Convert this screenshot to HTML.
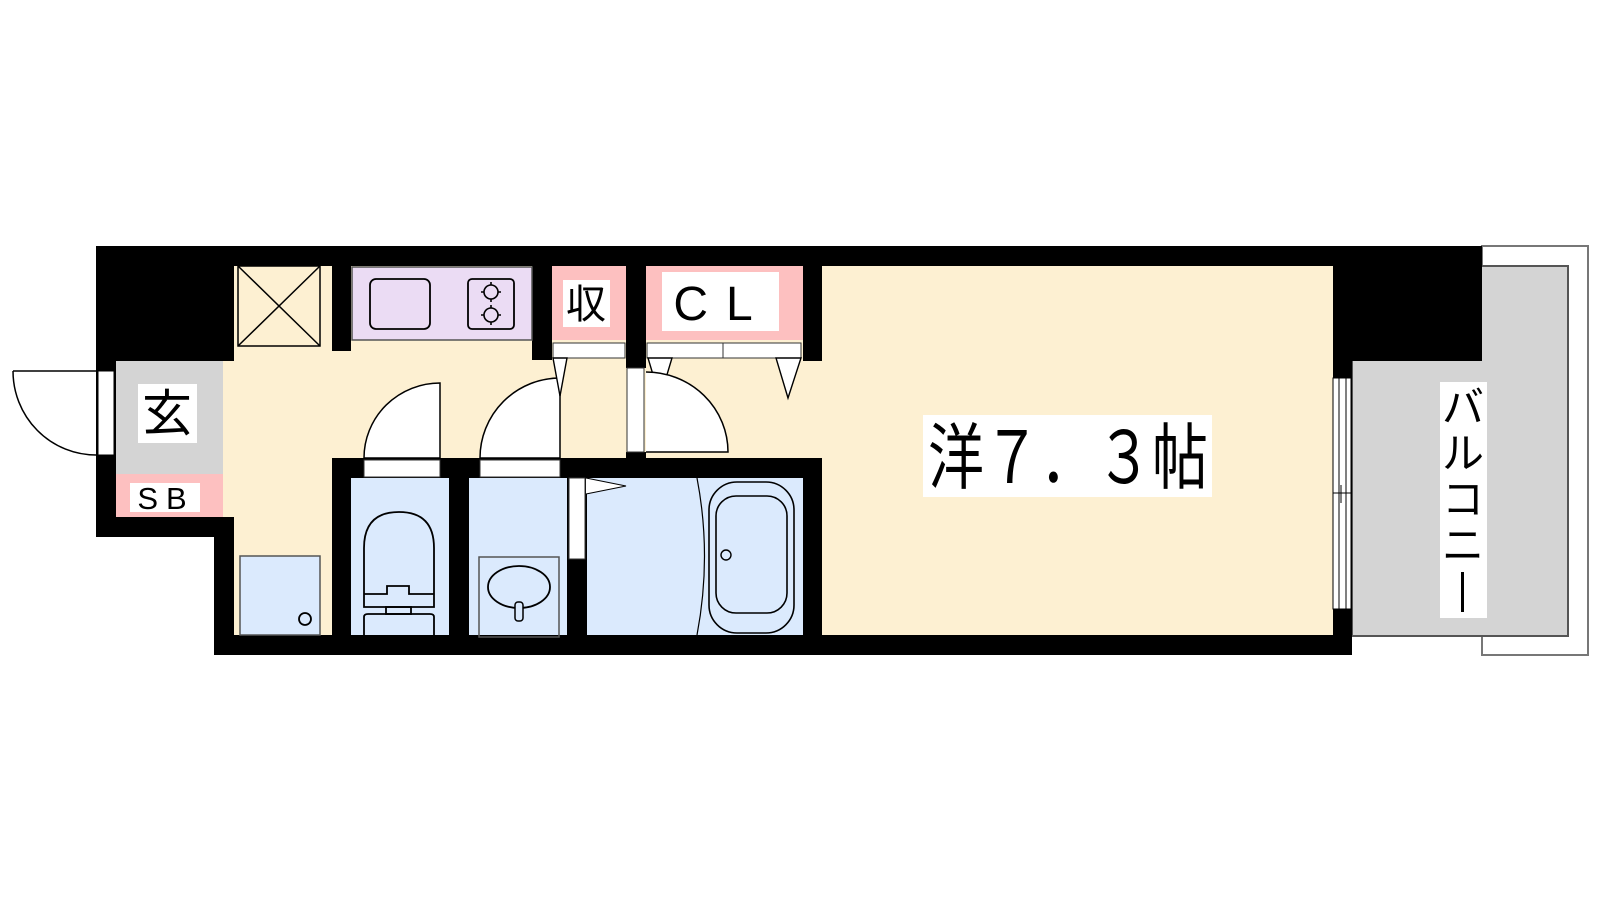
<!DOCTYPE html>
<html><head><meta charset="utf-8"><style>
html,body{margin:0;padding:0;background:#fff;width:1600px;height:900px;overflow:hidden}
svg{display:block}
text{font-family:"Liberation Sans","Noto Sans CJK JP",sans-serif;fill:#000}
</style></head><body>
<svg width="1600" height="900" viewBox="0 0 1600 900" xmlns="http://www.w3.org/2000/svg">
<!-- balcony -->
<rect x="1482" y="246" width="106" height="409" fill="#fff" stroke="#777" stroke-width="2"/>
<rect x="1352" y="266" width="216" height="370" fill="#d4d4d4" stroke="#555" stroke-width="2"/>
<!-- floors -->
<rect x="223" y="266" width="1110" height="369" fill="#fdf0d2"/>
<rect x="116" y="361" width="107" height="113" fill="#d4d4d4"/>
<rect x="116" y="474" width="107" height="43" fill="#fdc0c0"/>
<rect x="351" y="478" width="98" height="157" fill="#dbeafd"/>
<rect x="469" y="478" width="98" height="157" fill="#dbeafd"/>
<rect x="587" y="478" width="216" height="157" fill="#dbeafd"/>
<rect x="552" y="266" width="74" height="74" fill="#fdc0c0"/>
<rect x="646" y="266" width="157" height="74" fill="#fdc0c0"/>
<!-- walls -->
<g fill="#000">
<rect x="96" y="246" width="1386" height="20"/>
<rect x="96" y="246" width="138" height="115"/>
<rect x="96" y="361" width="20" height="176"/>
<rect x="96" y="517" width="138" height="20"/>
<rect x="214" y="517" width="20" height="138"/>
<rect x="214" y="635" width="1138" height="20"/>
<rect x="332" y="266" width="19" height="85"/>
<rect x="532" y="246" width="20" height="114"/>
<rect x="626" y="246" width="20" height="122"/>
<rect x="626" y="452" width="20" height="8"/>
<rect x="803" y="246" width="19" height="115"/>
<rect x="332" y="458" width="490" height="20"/>
<rect x="332" y="458" width="19" height="177"/>
<rect x="449" y="458" width="20" height="177"/>
<rect x="567" y="478" width="20" height="157"/>
<rect x="803" y="458" width="19" height="177"/>
<rect x="1333" y="246" width="149" height="115"/>
<rect x="1333" y="361" width="19" height="294"/>
</g>
<!-- entrance door -->
<rect x="98" y="371" width="16" height="84" fill="#fff" stroke="#000" stroke-width="1"/>
<path d="M13 371 H96 M13 371 A83 84 0 0 0 96 455" fill="#fff" stroke="#000" stroke-width="1.5"/>
<!-- labels left -->
<rect x="138" y="384" width="59" height="59" fill="#fff"/>
<text x="167" y="431" font-size="50" text-anchor="middle">玄</text>
<rect x="130" y="483" width="70" height="29" fill="#fff"/>
<text x="166" y="509" font-size="31" text-anchor="middle" letter-spacing="8">SB</text>
<!-- crossed box -->
<g stroke="#000" stroke-width="1.5" fill="none">
<rect x="238" y="266" width="82" height="80"/>
<path d="M238 266 L320 346 M320 266 L238 346"/>
</g>
<!-- kitchen -->
<rect x="352" y="267" width="180" height="73" fill="#ebdcf4" stroke="#555" stroke-width="1.5"/>
<rect x="370" y="279" width="60" height="50" rx="6" fill="none" stroke="#000" stroke-width="1.8"/>
<rect x="468" y="279" width="46" height="50" rx="4" fill="none" stroke="#000" stroke-width="1.8"/>
<g stroke="#000" stroke-width="1.6" fill="none">
<circle cx="491" cy="292" r="7"/><circle cx="491" cy="315" r="7"/>
<path d="M491 282v3M491 299v3M481 292h3M498 292h3M491 305v3M491 322v3M481 315h3M498 315h3"/>
</g>
<!-- laundry -->
<rect x="240" y="556" width="80" height="79" fill="#dbeafd" stroke="#555" stroke-width="1.5"/>
<circle cx="305" cy="619" r="6" fill="none" stroke="#000" stroke-width="1.8"/>
<!-- toilet door -->
<rect x="364" y="460" width="76" height="17" fill="#fff" stroke="#333" stroke-width="1"/>
<path d="M364 458 A76 75 0 0 1 440 383 V458 Z" fill="#fff" stroke="#000" stroke-width="1.5"/>
<!-- wash door -->
<rect x="480" y="460" width="80" height="17" fill="#fff" stroke="#333" stroke-width="1"/>
<path d="M480 458 A80 80 0 0 1 560 378 V458 Z" fill="#fff" stroke="#000" stroke-width="1.5"/>
<!-- toilet -->
<g stroke="#000" stroke-width="1.8" fill="none">
<path d="M364 607 V548 Q364 512 399 512 Q434 512 434 548 V607 Z"/>
<path d="M364 594 H387 V586 H409 V594 H434"/>
<rect x="386" y="607" width="25" height="7"/>
<path d="M364 640 V617 Q364 614 368 614 H430 Q434 614 434 617 V640"/>
</g>
<!-- sink -->
<rect x="479" y="557" width="80" height="80" fill="none" stroke="#555" stroke-width="1.5"/>
<ellipse cx="519" cy="587" rx="31" ry="21" fill="none" stroke="#000" stroke-width="1.8"/>
<rect x="515" y="602" width="8" height="19" rx="3" fill="#dbeafd" stroke="#000" stroke-width="1.5"/>
<!-- bath door -->
<rect x="569" y="478" width="16" height="81" fill="#fff" stroke="#333" stroke-width="1"/>
<path d="M586 478 L626 486 L586 494" fill="#fff" stroke="#000" stroke-width="1"/>
<!-- bathtub -->
<path d="M697 478 Q712 556 697 635" fill="none" stroke="#000" stroke-width="1.2"/>
<rect x="709" y="482" width="85" height="151" rx="28" fill="none" stroke="#000" stroke-width="1.6"/>
<rect x="716" y="496" width="71" height="117" rx="20" fill="none" stroke="#000" stroke-width="1.6"/>
<circle cx="726" cy="555" r="5" fill="none" stroke="#000" stroke-width="1.4"/>
<!-- closets -->
<rect x="563" y="280" width="47" height="47" fill="#fff"/>
<text x="586" y="318" font-size="40" text-anchor="middle">収</text>
<rect x="662" y="272" width="117" height="59" fill="#fff"/>
<text x="722" y="320" font-size="48" text-anchor="middle" letter-spacing="18">CL</text>
<g fill="#fff" stroke="#333" stroke-width="1">
<rect x="553" y="343" width="72" height="15"/>
<rect x="647" y="343" width="76" height="15"/>
<rect x="723" y="343" width="78" height="15"/>
</g>
<g fill="#fff" stroke="#000" stroke-width="1.4">
<path d="M553 358 L567 358 L560 396 Z"/>
<path d="M648 358 L672 358 L660 398 Z"/>
<path d="M776 358 L801 358 L788 398 Z"/>
</g>
<!-- hall door to bedroom -->
<rect x="627" y="368" width="17" height="84" fill="#fff" stroke="#333" stroke-width="1"/>
<path d="M646 372 A82 80 0 0 1 728 452 H646" fill="#fff" stroke="#000" stroke-width="1.5"/>
<!-- bedroom label -->
<rect x="923" y="415" width="289" height="82" fill="#fff"/>
<text x="928" y="483" font-size="72" textLength="280" lengthAdjust="spacingAndGlyphs">洋７．３帖</text>
<!-- window -->
<rect x="1333" y="378" width="18" height="231" fill="#fff" stroke="#000" stroke-width="1"/>
<path d="M1339 378 V609 M1346 378 V609 M1333 493 H1351 M1341 485 V503" stroke="#000" stroke-width="1" fill="none"/>
<!-- balcony label -->
<rect x="1440" y="382" width="47" height="236" fill="#fff"/>
<g font-size="42" text-anchor="middle">
<text x="1463" y="422">バ</text>
<text x="1463" y="468">ル</text>
<text x="1463" y="514">コ</text>
<text x="1463" y="560">ニ</text>
</g>
<rect x="1461" y="572" width="3" height="40" fill="#000"/>
</svg>
</body></html>
